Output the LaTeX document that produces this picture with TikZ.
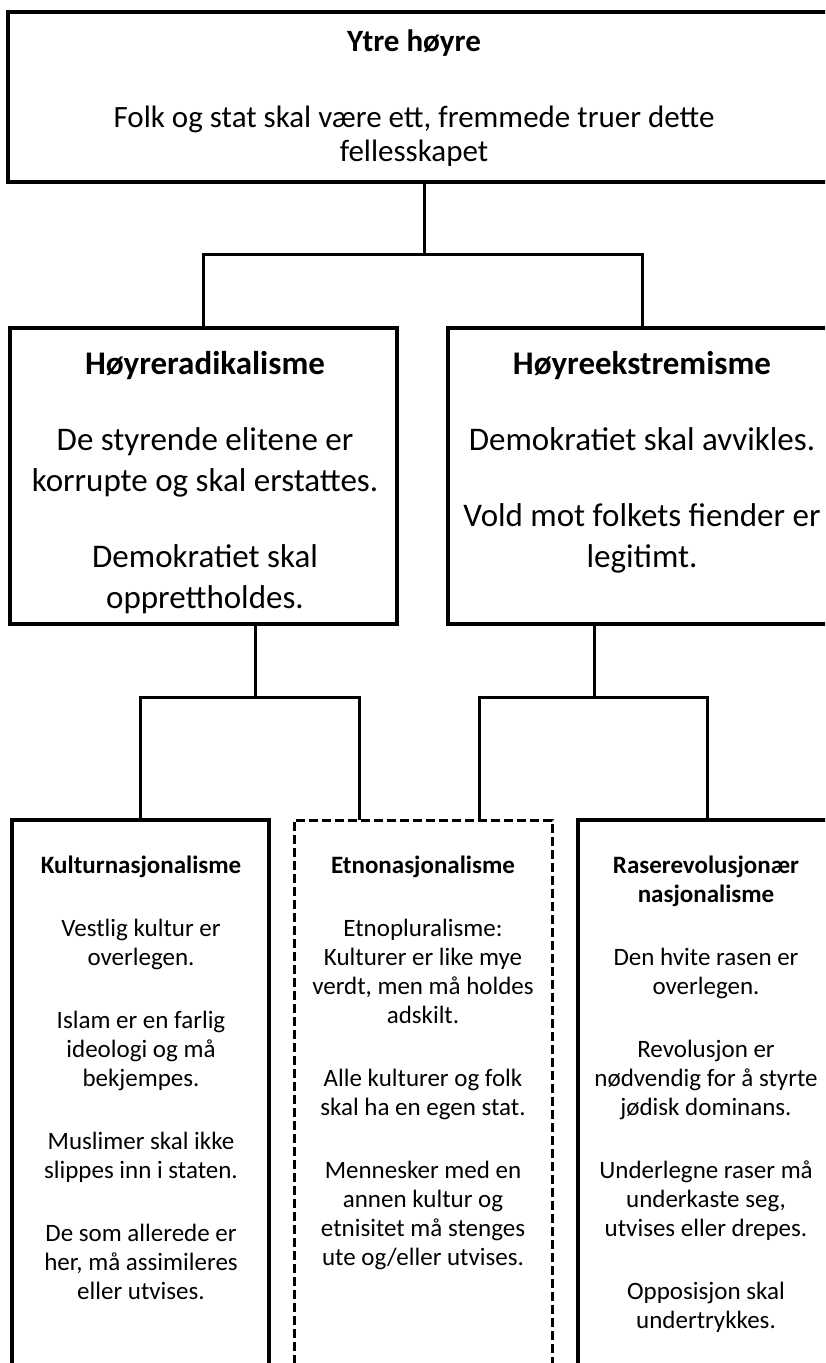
\documentclass[tikz,border=0pt]{standalone}
\usepackage{fontspec}
\setmainfont{Carlito}
\setlength{\tabcolsep}{0pt}
\begin{document}
\begin{tikzpicture}[x=1pt,y=-1pt,
  boxnode/.style={draw=black, line width=3.5pt, rectangle, inner sep=0pt, outer sep=0pt},
  dashbox/.style={boxnode, line width=3pt, dash pattern=on 9pt off 4pt},
  conn/.style={draw=black, line width=3pt},
  toptxtstyle/.style={anchor=base, inner sep=0pt, font=\fontsize{31}{34}\selectfont},
  bigtxt/.style={anchor=base, inner sep=0pt, font=\fontsize{33}{41}\selectfont},
  smalltxt/.style={anchor=base, inner sep=0pt, font=\fontsize{25}{29}\selectfont}]
\fill[white] (0,0) rectangle (825,1363);
\useasboundingbox (0,0) rectangle (825,1363);
\clip (0,0) rectangle (825,1363);

% boxes
\node[boxnode, minimum width=832pt, minimum height=170pt] (top) at (424,97) {};
\node[boxnode, minimum width=387pt, minimum height=296pt] (ml) at (203.5,476) {};
\node[boxnode, minimum width=388pt, minimum height=296pt] (mr) at (642,476) {};
\node[boxnode, minimum width=257pt, minimum height=600pt] (bl) at (140.5,1120) {};
\node[dashbox, minimum width=258pt, minimum height=600pt] (bd) at (423,1120) {};
\node[boxnode, minimum width=258pt, minimum height=600pt] (br) at (707,1120) {};

% connector attach points
\coordinate (mlout) at (255,624);
\coordinate (mrout) at (594,624);
\coordinate (bdin1) at (359,820);
\coordinate (bdin2) at (479,820);

% connectors
\draw[conn] (top.south) -- ++(0,72) -| (ml.north);
\draw[conn] (top.south) -- ++(0,72) -| (mr.north);
\draw[conn] (mlout) -- ++(0,73) -| (bl.north);
\draw[conn] (mlout) -- ++(0,73) -| (bdin1);
\draw[conn] (mrout) -- ++(0,73) -| (bdin2);
\draw[conn] (mrout) -- ++(0,73) -| (br.north);

% texts
\node[toptxtstyle] (toptxt) at (414,51) {\begin{tabular}[t]{c}\textbf{Ytre høyre}\\[42pt]
Folk og stat skal være ett, fremmede truer dette\\
fellesskapet\end{tabular}};

\node[bigtxt] (mltxt) at (205,374) {\begin{tabular}[t]{c}\textbf{Høyreradikalisme}\\[35pt]
De styrende elitene er\\
korrupte og skal erstattes.\\[35pt]
Demokratiet skal\\
opprettholdes.\end{tabular}};

\node[bigtxt] (mrtxt) at (642,374) {\begin{tabular}[t]{c}\textbf{Høyreekstremisme}\\[35pt]
Demokratiet skal avvikles.\\[35pt]
Vold mot folkets fiender er\\
legitimt.\end{tabular}};

\node[smalltxt] (bltxt) at (141,873) {\begin{tabular}[t]{c}\textbf{Kulturnasjonalisme}\\[34pt]
Vestlig kultur er\\
overlegen.\\[34pt]
Islam er en farlig\\
ideologi og må\\
bekjempes.\\[34pt]
Muslimer skal ikke\\
slippes inn i staten.\\[34pt]
De som allerede er\\
her, må assimileres\\
eller utvises.\end{tabular}};

\node[smalltxt] (bdtxt) at (423,873) {\begin{tabular}[t]{c}\textbf{Etnonasjonalisme}\\[34pt]
Etnopluralisme:\\
Kulturer er like mye\\
verdt, men må holdes\\
adskilt.\\[34pt]
Alle kulturer og folk\\
skal ha en egen stat.\\[34pt]
Mennesker med en\\
annen kultur og\\
etnisitet må stenges\\
ute og/eller utvises.\end{tabular}};

\node[smalltxt] (brtxt) at (706,873) {\begin{tabular}[t]{c}\textbf{Raserevolusjonær}\\
\textbf{nasjonalisme}\\[34pt]
Den hvite rasen er\\
overlegen.\\[34pt]
Revolusjon er\\
nødvendig for å styrte\\
jødisk dominans.\\[34pt]
Underlegne raser må\\
underkaste seg,\\
utvises eller drepes.\\[34pt]
Opposisjon skal\\
undertrykkes.\end{tabular}};
\end{tikzpicture}
\end{document}
